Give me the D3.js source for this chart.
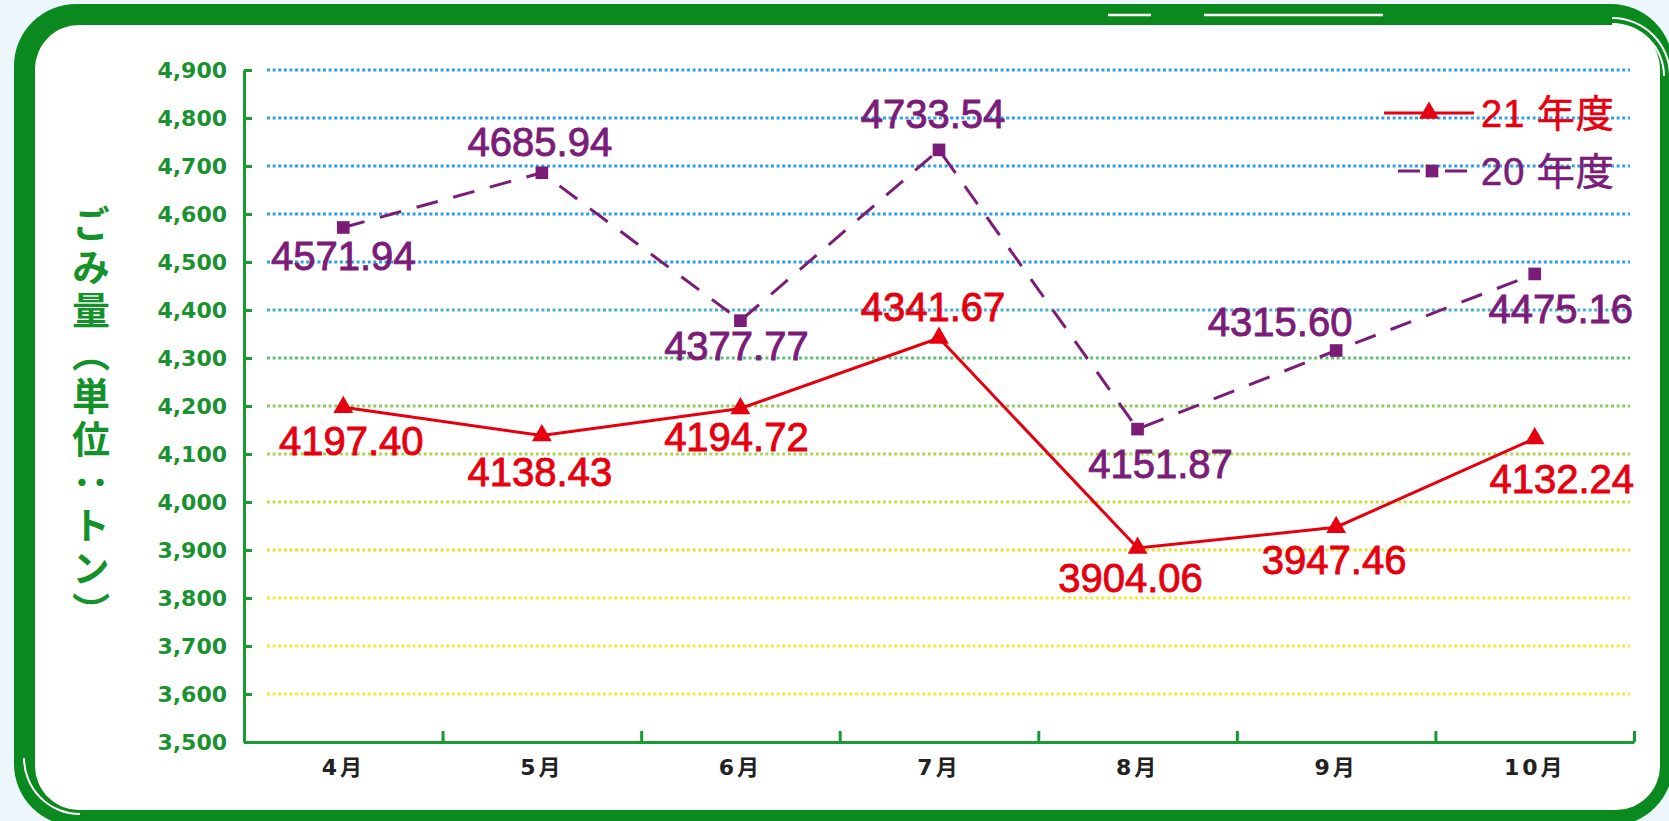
<!DOCTYPE html>
<html>
<head>
<meta charset="utf-8">
<script src="https://cdn.jsdelivr.net/npm/d3@7"></script>
<style>
	body { margin: 0; background: #eef6fd; overflow: hidden; }
</style>
</head>
<body>
<div class="chart"></div>
<script>
// data
const months = ["4月", "5月", "6月", "7月", "8月", "9月", "10月"]
const fy21 = [4197.40, 4138.43, 4194.72, 4341.67, 3904.06, 3947.46, 4132.24]
const fy20 = [4571.94, 4685.94, 4377.77, 4733.54, 4151.87, 4315.60, 4475.16]
const yTicks = [3500, 3600, 3700, 3800, 3900, 4000, 4100, 4200, 4300, 4400, 4500, 4600, 4700, 4800, 4900]
const seriesNames = ["21 年度", "20 年度"]
const yTitle = "ごみ量（単位：トン）"

// where each value label sits relative to its point (dx, dy)
const off21 = [[8, 33], [-2, 36], [-4, 28], [-6, -31], [-7, 30], [-2, 32], [27, 40]]
const off20 = [[0, 28], [-2, -31], [-4, 25], [-6, -36], [23, 34], [-56, -29], [26, 35]]

const W = 1669, H = 821
const green = "#0a8a1e"
const red = "#e6000f"
const purple = "#7a1c78"

const svg = d3.select(".chart").append("svg")
	.attr("width", W)
	.attr("height", H)

svg.append("rect").attr("width", W).attr("height", H).attr("fill", "#eef6fd")

// frame
function roundRect(x0, y0, x1, y1, r) {
	const p = d3.path()
	p.moveTo(x0 + r, y0)
	p.lineTo(x1 - r, y0)
	p.arcTo(x1, y0, x1, y0 + r, r)
	p.lineTo(x1, y1 - r)
	p.arcTo(x1, y1, x1 - r, y1, r)
	p.lineTo(x0 + r, y1)
	p.arcTo(x0, y1, x0, y1 - r, r)
	p.lineTo(x0, y0 + r)
	p.arcTo(x0, y0, x0 + r, y0, r)
	p.closePath()
	return p.toString()
}
svg.append("path").attr("d", roundRect(14, 4, 1673, 826, 62)).attr("fill", green)
svg.append("path").attr("d", roundRect(35, 25, 1660, 810, 44)).attr("fill", "white")

// little white highlights on the frame
svg.append("line").attr("x1", 1108).attr("x2", 1151).attr("y1", 15).attr("y2", 15)
	.attr("stroke", "white").attr("stroke-width", 2.5)
svg.append("line").attr("x1", 1204).attr("x2", 1383).attr("y1", 15).attr("y2", 15)
	.attr("stroke", "white").attr("stroke-width", 2.5)
const arc = d3.arc()
svg.append("path")
	.attr("transform", "translate(80,758)")
	.attr("d", arc({innerRadius: 55, outerRadius: 57, startAngle: Math.PI, endAngle: 1.5 * Math.PI}))
	.attr("fill", "white")
svg.append("path")
	.attr("transform", "translate(1612,76)")
	.attr("d", arc({innerRadius: 57, outerRadius: 59, startAngle: 0, endAngle: 0.5 * Math.PI}))
	.attr("fill", "white")
svg.append("path")
	.attr("transform", "translate(1612,76)")
	.attr("d", arc({innerRadius: 51, outerRadius: 53, startAngle: 0, endAngle: 0.5 * Math.PI}))
	.attr("fill", "white")

// scales
const x = d3.scaleBand().domain(months).range([244, 1634]).padding(0)
const y = d3.scaleLinear().domain([3500, 4900]).range([742, 70])
const xEdge = d3.scaleLinear().domain([0, months.length]).range(x.range())
const px = d => x(d) + x.bandwidth() / 2

const gridColor = d3.scaleLinear()
	.domain([3800, 3900, 4000, 4100, 4200, 4300, 4400, 4500])
	.range(["#f2e93a", "#e2e23c", "#cbdc44", "#acd352", "#8ccb62", "#62bd78", "#4aaed0", "#2e9fe6"])
	.clamp(true)

// grid
svg.append("g").selectAll("line")
	.data(yTicks.filter(d => d > 3500))
	.join("line")
	.attr("x1", 267)
	.attr("x2", 1630)
	.attr("y1", d => y(d))
	.attr("y2", d => y(d))
	.attr("stroke", d => gridColor(d))
	.attr("stroke-width", 3)
	.attr("stroke-dasharray", "3,2.6")

// y axis
const yAxis = svg.append("g")
	.attr("transform", "translate(244,0)")
	.call(d3.axisLeft(y).tickValues(yTicks).tickFormat(d3.format(",")).tickSizeInner(-8).tickSizeOuter(0).tickPadding(17))
yAxis.select(".domain").attr("stroke", "#1a9a35").attr("stroke-width", 3)
yAxis.selectAll(".tick line").attr("stroke", "#1a9a35").attr("stroke-width", 3)
yAxis.selectAll(".tick text")
	.attr("fill", "#1a9230")
	.style("font-family", "'DejaVu Sans'")
	.style("font-weight", "bold")
	.style("font-size", "22px")

// x axis: ticks on the band edges, labels in the middle
const xTicks = svg.append("g")
	.attr("transform", "translate(0,742)")
	.call(d3.axisBottom(xEdge).tickValues(d3.range(1, months.length + 1)).tickSizeInner(-11).tickSizeOuter(0).tickFormat(""))
xTicks.select(".domain").attr("stroke", "#1a9a35").attr("stroke-width", 3)
xTicks.selectAll(".tick line").attr("stroke", "#1a9a35").attr("stroke-width", 3)

const xLabels = svg.append("g")
	.attr("transform", "translate(0,742)")
	.call(d3.axisBottom(x).tickSize(0).tickPadding(17))
xLabels.select(".domain").remove()
xLabels.selectAll(".tick text")
	.attr("fill", "#222")
	.style("font-family", "'DejaVu Sans', 'Noto Sans CJK JP'")
	.style("font-weight", "bold")
	.style("font-size", "22px")
	.style("letter-spacing", "3px")

// y title, vertical
svg.append("text")
	.attr("x", 91)
	.attr("y", 205)
	.style("writing-mode", "vertical-rl")
	.style("font-family", "'Noto Sans CJK JP'")
	.style("font-weight", "bold")
	.style("font-size", "38px")
	.style("letter-spacing", "5px")
	.attr("fill", "#14922a")
	.text(yTitle)

// lines
const line = d3.line().x((d, i) => px(months[i])).y(d => y(d))

svg.append("path")
	.datum(fy20)
	.attr("d", line)
	.attr("fill", "none")
	.attr("stroke", purple)
	.attr("stroke-width", 3)
	.attr("stroke-dasharray", "22,16")

svg.append("path")
	.datum(fy21)
	.attr("d", line)
	.attr("fill", "none")
	.attr("stroke", red)
	.attr("stroke-width", 3)

const tri = d3.symbol().type(d3.symbolTriangle).size(170)
const sq = d3.symbol().type(d3.symbolSquare).size(160)

svg.append("g").selectAll("path")
	.data(fy20)
	.join("path")
	.attr("transform", (d, i) => `translate(${px(months[i])},${y(d)})`)
	.attr("d", sq)
	.attr("fill", purple)

svg.append("g").selectAll("path")
	.data(fy21)
	.join("path")
	.attr("transform", (d, i) => `translate(${px(months[i])},${y(d)})`)
	.attr("d", tri)
	.attr("fill", red)

// value labels
const fmt = d3.format(".2f")
function labels(values, offsets, color) {
	svg.append("g").selectAll("text")
		.data(values)
		.join("text")
		.attr("x", (d, i) => px(months[i]) + offsets[i][0])
		.attr("y", (d, i) => y(d) + offsets[i][1])
		.attr("dy", "0.36em")
		.attr("text-anchor", "middle")
		.attr("fill", color)
		.attr("stroke", color)
		.attr("stroke-width", 0.9)
		.style("font-family", "'Liberation Sans', Arial")
		.style("font-size", "40px")
		.text(d => fmt(d))
}
labels(fy20, off20, purple)
labels(fy21, off21, red)

// legend
const lg = svg.append("g")
lg.append("line").attr("x1", 1384).attr("x2", 1474).attr("y1", 113).attr("y2", 113)
	.attr("stroke", red).attr("stroke-width", 3)
lg.append("path").attr("transform", "translate(1429,113)").attr("d", tri).attr("fill", red)
lg.append("line").attr("x1", 1398).attr("x2", 1420).attr("y1", 171).attr("y2", 171)
	.attr("stroke", purple).attr("stroke-width", 3)
lg.append("line").attr("x1", 1445).attr("x2", 1467).attr("y1", 171).attr("y2", 171)
	.attr("stroke", purple).attr("stroke-width", 3)
lg.append("path").attr("transform", "translate(1432,171)").attr("d", sq).attr("fill", purple)

lg.selectAll("text")
	.data(seriesNames)
	.join("text")
	.attr("x", 1481)
	.attr("y", (d, i) => i == 0 ? 113 : 171)
	.attr("dy", "0.36em")
	.attr("fill", (d, i) => i == 0 ? red : purple)
	.attr("stroke", (d, i) => i == 0 ? red : purple)
	.attr("stroke-width", 0.6)
	.style("font-family", "'Liberation Sans', 'Noto Sans CJK JP'")
	.style("font-size", "38px")
	.style("letter-spacing", "1px")
	.text(d => d)
</script>
</body>
</html>
